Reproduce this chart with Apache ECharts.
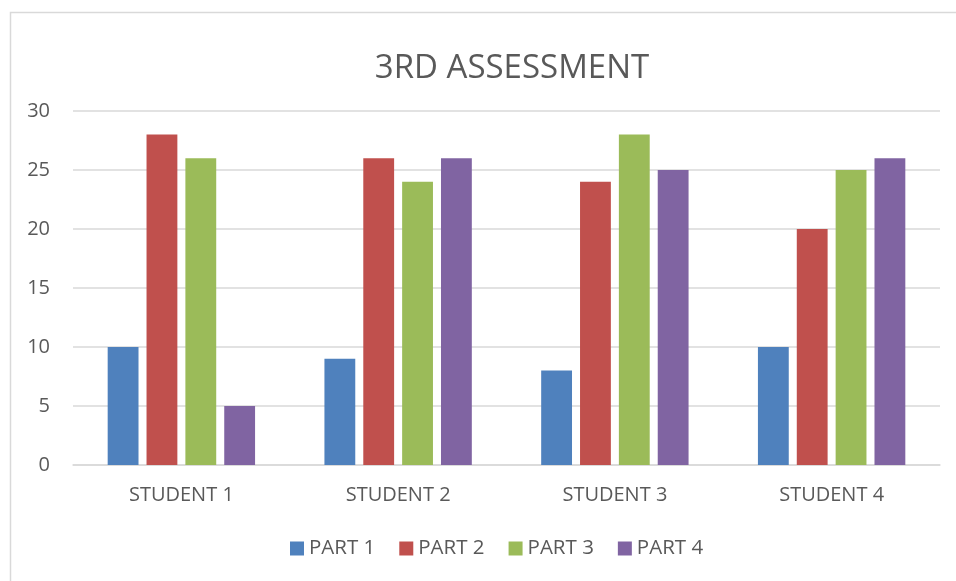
<!DOCTYPE html>
<html>
<head>
<meta charset="utf-8">
<title>3RD ASSESSMENT</title>
<script src="https://cdn.jsdelivr.net/npm/echarts@6/dist/echarts.min.js"></script>
<style>
  * { margin: 0; padding: 0; }
  #main { width: 956px; height: 581px; background: #fff; }
</style>
</head>
<body>
<div id="main"></div>
<script>
let categories = ['STUDENT 1', 'STUDENT 2', 'STUDENT 3', 'STUDENT 4'];
let seriesNames = ['PART 1', 'PART 2', 'PART 3', 'PART 4'];
let part1 = [10, 9, 8, 10];
let part2 = [28, 26, 24, 20];
let part3 = [26, 24, 28, 25];
let part4 = [5, 26, 25, 26];
let myColor = ['#4F81BD', '#C0504D', '#9BBB59', '#8064A2'];

let myChart = echarts.init(document.getElementById('main'));
let fontFam = '"Open Sans", "Noto Sans", sans-serif';
let values = [part1, part2, part3, part4];

let option = {
  backgroundColor: '#fff',
  animation: false,
  color: myColor,
  title: {
    text: '3RD ASSESSMENT',
    left: 507,
    textAlign: 'center',
    top: 47,
    textStyle: { fontSize: 33, fontWeight: 'normal', color: '#595959', fontFamily: fontFam }
  },
  // light border round the chart area
  graphic: [{
    type: 'rect',
    shape: { x: 10.5, y: 12.5, width: 1000, height: 700 },
    style: { fill: 'none', stroke: '#D9D9D9', lineWidth: 1.5 },
    silent: true
  }],
  legend: {
    bottom: 17,
    left: 285,
    itemWidth: 14,
    itemHeight: 14,
    itemGap: 24,
    icon: 'rect',
    textStyle: { fontSize: 20.5, color: '#595959', fontFamily: fontFam },
    data: seriesNames
  },
  grid: { left: 73, right: 16, top: 111, bottom: 116 },
  xAxis: {
    type: 'category',
    data: categories,
    axisLine: { lineStyle: { color: '#D9D9D9', width: 1.5 } },
    axisTick: { show: false },
    axisLabel: { color: '#595959', fontSize: 20, margin: 20, fontFamily: fontFam }
  },
  yAxis: {
    type: 'value',
    min: 0,
    max: 30,
    interval: 5,
    axisLine: { show: false },
    axisTick: { show: false },
    splitLine: { lineStyle: { color: '#D9D9D9', width: 1.5 } },
    axisLabel: { color: '#595959', fontSize: 20, margin: 23, fontFamily: fontFam }
  },
  series: seriesNames.map((name, i) => ({
    name: name,
    type: 'bar',
    data: values[i],
    barGap: '26%',
    barCategoryGap: '32%',
    itemStyle: { color: myColor[i] }
  }))
};
myChart.setOption(option);
</script>
</body>
</html>
